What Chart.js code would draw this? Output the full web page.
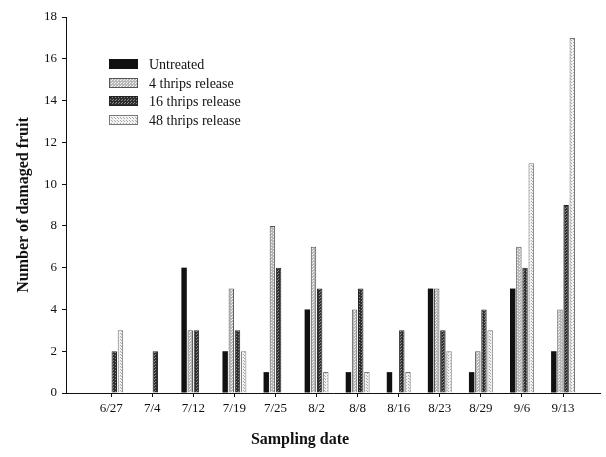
<!DOCTYPE html>
<html>
<head>
<meta charset="utf-8">
<script src="https://cdn.jsdelivr.net/npm/chart.js@4"></script>
<style>
  html, body { margin: 0; padding: 0; background: #fff; }
  #wrap { width: 606px; height: 457px; }
</style>
</head>
<body>
<div id="wrap"><canvas id="myChart" width="606" height="457"></canvas></div>
<script>
const DATES = ['6/27', '7/4', '7/12', '7/19', '7/25', '8/2', '8/8', '8/16', '8/23', '8/29', '9/6', '9/13'];
const SERIES_NAMES = ['Untreated', '4 thrips release', '16 thrips release', '48 thrips release'];
const UNTREATED = [0, 0, 6, 2, 1, 4, 1, 1, 5, 1, 5, 2];
const THRIPS_4 = [0, 0, 3, 5, 8, 7, 4, 0, 5, 2, 7, 4];
const THRIPS_16 = [2, 2, 3, 3, 6, 5, 5, 3, 3, 4, 6, 9];
const THRIPS_48 = [3, 0, 0, 2, 0, 1, 1, 1, 2, 3, 11, 17];
const Y_TICKS = [0, 2, 4, 6, 8, 10, 12, 14, 16, 18];

const SERIF = '"Liberation Serif", "Times New Roman", serif';

// little stipple patterns, like the old print
function makePattern(bg, fg, cells) {
  const c = document.createElement('canvas');
  c.width = 3; c.height = 3;
  const g = c.getContext('2d');
  g.fillStyle = bg;
  g.fillRect(0, 0, 3, 3);
  g.fillStyle = fg;
  cells.forEach(p => g.fillRect(p[0], p[1], 1, 1));
  return g.createPattern(c, 'repeat');
}

const ctx = document.getElementById('myChart');
const fills = [
  '#111111',
  makePattern('#b8b8b8', '#f4f4f4', [[1, 1], [0, 2]]),
  makePattern('#2e2e2e', '#8a8a8a', [[1, 1], [2, 0]]),
  makePattern('#f2f2f2', '#a8a8a8', [[1, 1], [0, 0]])
];
const borders = ['#111111', '#555555', '#222222', '#777777'];

function toPoints(arr) {
  return arr.map((v, i) => ({ x: i, y: v }));
}

const allSeries = [UNTREATED, THRIPS_4, THRIPS_16, THRIPS_48];

const legendPlugin = {
  id: 'boxLegend',
  afterDraw(chart) {
    const g = chart.ctx;
    const rows = [64, 83, 101, 120];
    g.save();
    g.font = '14px ' + SERIF;
    g.textBaseline = 'middle';
    SERIES_NAMES.forEach((name, i) => {
      g.fillStyle = fills[i];
      g.fillRect(109, rows[i] - 5, 29, 10);
      g.strokeStyle = borders[i];
      g.lineWidth = 1;
      g.strokeRect(109.5, rows[i] - 4.5, 28, 9);
      g.fillStyle = '#111';
      g.fillText(name, 149, rows[i] + 1);
    });
    g.restore();
  }
};

new Chart(ctx, {
  type: 'bar',
  data: {
    datasets: allSeries.map((s, i) => ({
      label: SERIES_NAMES[i],
      data: toPoints(s),
      backgroundColor: fills[i],
      borderColor: borders[i],
      borderWidth: i === 0 ? 0 : 1,
      categoryPercentage: 0.6,
      barPercentage: 0.88
    }))
  },
  options: {
    responsive: false,
    animation: false,
    layout: { padding: { top: 17, right: 6, left: 0, bottom: 0 } },
    plugins: {
      legend: { display: false },
      tooltip: { enabled: false },
      title: {
        display: true,
        position: 'bottom',
        text: 'Sampling date',
        color: '#111',
        font: { family: SERIF, size: 16, weight: 'bold' },
        padding: { top: 0, bottom: 8 }
      }
    },
    scales: {
      x: {
        type: 'linear',
        min: -1.1,
        max: 11.9,
        offset: false,
        afterBuildTicks(s) {
          s.ticks = DATES.map((d, i) => ({ value: i }));
        },
        afterFit(s) { s.height = 36.8; },
        border: { color: '#111', width: 1 },
        grid: { offset: false, drawOnChartArea: false, drawTicks: true, tickLength: 4, color: '#111' },
        ticks: {
          autoSkip: false,
          maxRotation: 0,
          padding: 4,
          color: '#111',
          font: { family: SERIF, size: 13 },
          callback: v => DATES[v] ?? ''
        }
      },
      y: {
        min: 0,
        max: 18,
        afterBuildTicks(s) {
          s.ticks = Y_TICKS.map(v => ({ value: v }));
        },
        afterFit(s) { s.width = 66; },
        border: { color: '#111', width: 1 },
        grid: { drawOnChartArea: false, drawTicks: true, tickLength: 4, color: '#111' },
        ticks: {
          padding: 5,
          color: '#111',
          font: { family: SERIF, size: 13 }
        },
        title: {
          display: true,
          text: 'Number of damaged fruit',
          color: '#111',
          font: { family: SERIF, size: 16, weight: 'bold' },
          padding: { top: 14, bottom: 0 }
        }
      }
    }
  },
  plugins: [legendPlugin]
});
</script>
</body>
</html>
